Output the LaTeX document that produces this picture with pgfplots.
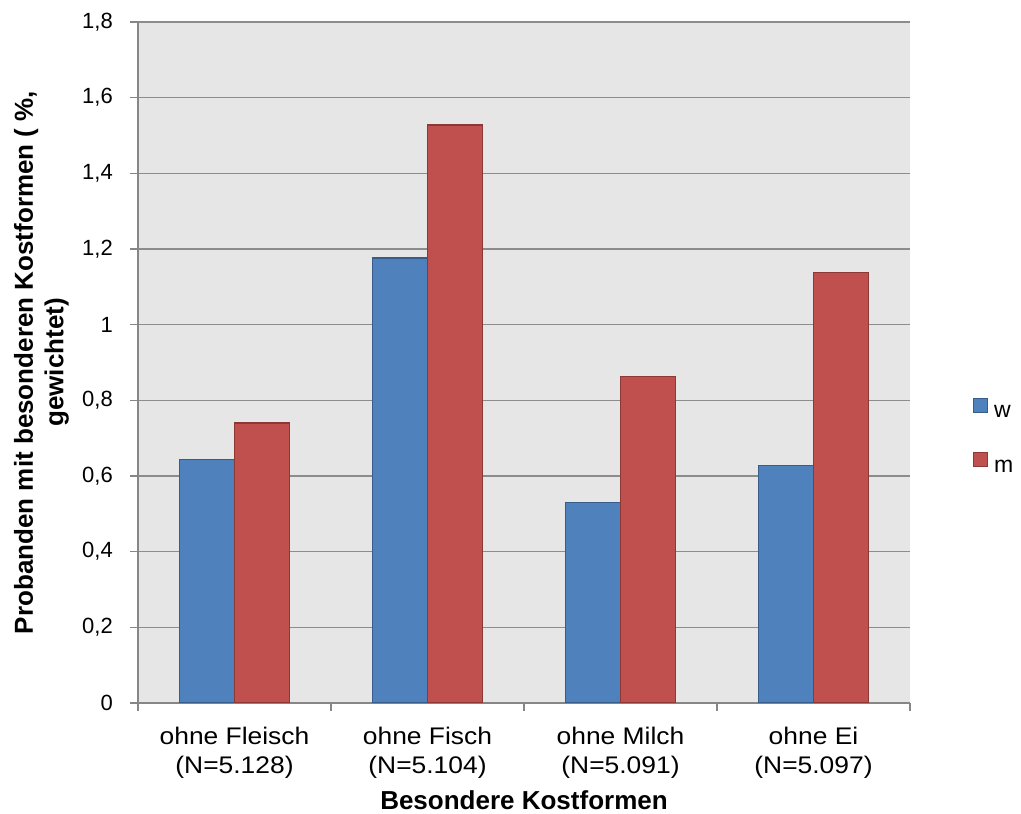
\documentclass[border=0pt]{standalone}
\usepackage{fontspec}
\setmainfont{Liberation Sans}
\newfontfamily\xtfont[FakeStretch=1.1]{Liberation Sans}
\usepackage{pgfplots}
\pgfplotsset{compat=1.18}

\definecolor{wblue}{HTML}{4F81BD}
\definecolor{wblueedge}{HTML}{385D8A}
\definecolor{mred}{HTML}{C0504D}
\definecolor{mrededge}{HTML}{8C3836}
\definecolor{bggray}{HTML}{E6E6E6}
\definecolor{gridgray}{HTML}{8C8C8C}
\definecolor{axisgray}{HTML}{868686}

\pgfplotsset{
  sq legend/.style={legend image code/.code={
    \draw[##1, line width=1pt] (0pt,0pt) rectangle (14pt,14pt);}},
}

\begin{document}
\begin{tikzpicture}[x=1pt,y=1pt]
\path[use as bounding box] (0,0) rectangle (1021,814);
\begin{axis}[
  at={(138pt,111pt)}, anchor=south west,
  scale only axis, width=772pt, height=681pt,
  ybar=0pt, bar width=55pt,
  xmin=-0.5, xmax=3.5,
  ymin=0, ymax=1.8,
  ytick={0,0.2,0.4,0.6,0.8,1,1.2,1.4,1.6,1.8},
  xtick={0,1,2,3},
  xticklabels={{ohne Fleisch\\(N=5.128)},{ohne Fisch\\(N=5.104)},
               {ohne Milch\\(N=5.091)},{ohne Ei\\(N=5.097)}},
  minor xtick={-0.5,0.5,1.5,2.5,3.5},
  axis lines=left,
  axis line style={-, color=axisgray, line width=1.5pt},
  axis background/.style={fill=bggray},
  ymajorgrids,
  major grid style={color=gridgray, line width=1.5pt},
  tick align=outside,
  major tick length=8pt, minor tick length=8pt,
  tick style={color=axisgray, line width=1.5pt},
  major x tick style={draw=none},
  /pgf/number format/use comma,
  /pgf/number format/assume math mode=true,
  yticklabel style={font=\fontsize{22}{26}\selectfont, inner sep=0pt, xshift=-17pt},
  xticklabel style={font=\fontsize{24}{29}\xtfont, align=center, inner sep=0pt, yshift=-16pt},
  ylabel={Probanden mit besonderen Kostformen ( \%,\\gewichtet)},
  ylabel style={font=\fontsize{26}{30.5}\selectfont\bfseries, align=center,
    at={(rel axis cs:0,0.5)}, anchor=south, inner sep=0pt, yshift=69pt},
  xlabel={Besondere Kostformen},
  xlabel style={font=\fontsize{26}{30}\selectfont\bfseries,
    at={(rel axis cs:0.5,0)}, anchor=base, inner sep=0pt, yshift=-107pt},
  legend style={draw=none, fill=none, inner sep=0pt, outer sep=0pt,
    at={(axis description cs:1.0816,0.4479)}, anchor=north west,
    row sep=33pt, nodes={inner sep=0pt},
    font=\fontsize{23}{23}\selectfont,
    /tikz/every odd column/.append style={column sep=6pt}},
  legend cell align=left,
]
\addplot[fill=wblue, draw=wblueedge, line width=1.2pt, sq legend]
  coordinates {(0,0.643) (1,1.176) (2,0.530) (3,0.628)};
\addplot[fill=mred, draw=mrededge, line width=1.2pt, sq legend]
  coordinates {(0,0.740) (1,1.528) (2,0.863) (3,1.138)};
\legend{w,m}
\end{axis}
\end{tikzpicture}
\end{document}
